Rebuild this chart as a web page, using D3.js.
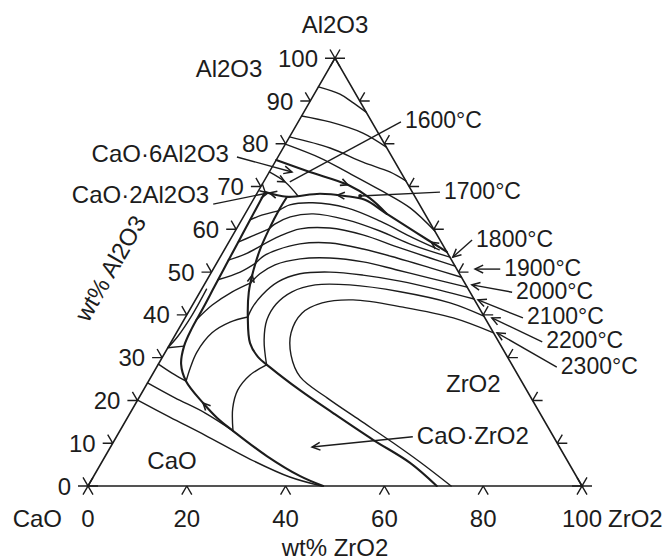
<!DOCTYPE html>
<html>
<head>
<meta charset="utf-8">
<script src="https://cdn.jsdelivr.net/npm/d3@7"></script>
<style>
  body { margin: 0; background: #fff; }
  text { font-family: "Liberation Sans", Arial, sans-serif; font-size: 24px; fill: #1c1c1c; }
  .temp { font-size: 23px; }
</style>
</head>
<body>
<svg width="667" height="560"></svg>
<script>
// every point is [wt% ZrO2, wt% Al2O3]
var leftTicks = [0, 10, 20, 30, 40, 50, 60, 70, 80, 90, 100];
var bottomTicks = [0, 20, 40, 60, 80, 100];
var rightTicks = [10, 20, 30, 40, 50, 60, 70, 80, 90];

// isotherms in the Al2O3 field
var al2o3Iso = [
  [[0, 93.3], [5.2, 91.6], [8.5, 89.8], [12.6, 87.4]],
  [[0, 86.5], [6.4, 85.1], [14.4, 82.5], [20.8, 79.2]],
  [[0, 81.6], [9.5, 79.0], [17.8, 75.7], [24.4, 73.4], [28.7, 71.3]],
  [[0, 79.9], [8.6, 76.7], [15.7, 73.4], [24.5, 69.2], [32.7, 65.0], [40.4, 59.6]]
];

// field boundaries
var bndAl2O3CA6 = [[0, 76.2], [8.2, 73.4], [17.4, 70.4], [23.4, 67.3], [28.7, 63.6]];
var bndZrO2Top = [[45.3, 54.7], [36.5, 59.4], [28.7, 63.6], [22.6, 66.9], [18.1, 67.8], [12.8, 68.3], [6.5, 67.6], [1.5, 68.7]];
var bndZrO2CZ = [[6.5, 67.6], [6.4, 64.3], [6.6, 60.5], [7.2, 55.2], [8.4, 50.0], [9.9, 45.3], [12.6, 39.5], [16.1, 33.4],
  [19.3, 30.2], [22.9, 27.8], [31.7, 22.4], [41.0, 17.1], [52.3, 10.8], [62.5, 5.4], [70.6, 0]];
var bndCZLeft = [[1.5, 68.7], [1.7, 62.2], [1.9, 57.0], [2.1, 51.7], [2.3, 46.5], [2.5, 41.6], [2.6, 36.9], [3.1, 32.7],
  [4.6, 28.5], [7.6, 24.5], [13.6, 19.4], [18.2, 15.9], [22.9, 12.9], [32.7, 7.0], [41.8, 2.3], [47.6, 0]];

var thinBnd = [
  [[0, 73.4], [4.3, 71.1], [8.6, 67.8]],
  [[0, 70.6], [1.5, 68.7]],
  [[1.0, 46], [1.1, 40], [0.7, 35], [0, 32.3]],
  [[0, 32.3], [3.1, 32.7]],
  [[0, 28.5], [3.8, 26.4], [7.6, 24.5]],
  [[0, 24.1], [7.3, 20.6], [15.1, 17.1], [22.9, 12.9]],
  [[0, 20.1], [8.5, 16.1], [17.7, 11.9], [29.6, 6.3], [39.8, 2.1], [47.3, 0]]
];

// isotherms in the ZrO2 field (outer to inner)
var zro2Iso = [
  [[43.5, 55.2], [36.8, 58.0], [28.2, 61.9], [19.9, 65.0], [12.4, 66.2], [8.0, 65.7], [6.4, 64.3]],
  [[46.5, 53.5], [37.6, 56.3], [29.3, 59.6], [21.3, 62.2], [13.8, 63.6], [9.5, 62.9], [7.2, 61.2], [6.6, 60.1]],
  [[48.6, 51.4], [42.6, 53.3], [34.6, 55.9], [26.3, 58.7], [18.8, 60.3], [12.9, 60.1], [9.6, 58.4], [7.1, 56.3]],
  [[51.2, 48.8], [43.8, 51.0], [35.9, 53.3], [28.0, 55.4], [20.6, 56.8], [14.6, 56.6], [10.7, 55.2], [8.7, 53.8], [7.9, 52.1]],
  [[53.5, 46.5], [44.9, 48.6], [37.3, 50.5], [29.5, 52.4], [22.3, 53.3], [16.4, 53.1], [12.0, 51.7], [10.0, 49.6], [9.2, 47.5]],
  [[56.3, 43.7], [48.3, 45.8], [39.2, 47.9], [31.0, 49.3], [24.0, 50.0], [18.1, 49.6], [14.6, 47.7], [12.9, 44.6], [12.4, 41.6], [12.6, 39.5]],
  [[60.3, 39.7], [51.9, 42.8], [40.5, 45.4], [29.5, 47.0], [22.5, 47.0], [18.6, 45.4], [16.8, 42.5], [16.8, 38.8], [18.6, 34.1], [22.0, 28.3]],
  [[64.2, 35.8], [54.3, 39.3], [42.9, 41.8], [31.9, 43.5], [26.0, 42.8], [23.1, 40.4], [23.2, 35.8], [25.8, 30.6], [30.2, 25.5],
   [38.1, 20.6], [47.3, 15.4], [56.7, 10.1], [64.4, 5.6], [73.5, 0]]
];

// the same isotherms carried on in the CaO·ZrO2 field
var czIso = [
  [[6.4, 64.3], [3.5, 63.3], [1.7, 62.2]],
  [[6.6, 60.1], [4.0, 58.4], [1.9, 57.0]],
  [[7.1, 56.3], [4.7, 54.2], [2.0, 52.8]],
  [[7.9, 52.1], [5.8, 50.0], [2.2, 48.2]],
  [[9.2, 47.5], [6.5, 45.4], [4.0, 42.3], [2.5, 38.8]],
  [[12.6, 39.5], [9.6, 38.3], [7.2, 35.8], [6.4, 31.3], [6.9, 27.6], [7.6, 24.5]],
  [[22.0, 28.3], [19.8, 25.9], [19.1, 22.4], [20.2, 18.2], [22.9, 12.9]]
];

// arrows on boundaries: [from, to]
var bndArrows = [
  [[15.0, 71.3], [17.4, 70.4]],
  [[19.0, 67.8], [16.5, 68.0]],
  [[43.0, 55.9], [41.0, 57.0]],
  [[9.5, 46.5], [8.6, 49.3]],
  [[16.0, 17.6], [13.6, 19.4]],
  [[2.6, 71.9], [4.3, 71.1]],
  [[4.5, 68.0], [2.5, 68.5]]
];

var tempLabels = ["1600°C", "1700°C", "1800°C", "1900°C", "2000°C", "2100°C", "2200°C", "2300°C"];
var tempTails = [[20.8, 85.1], [36.9, 68.7], [49.0, 57.5], [58.1, 50.7], [63.2, 45.3], [68.4, 39.3], [75.1, 33.7], [81.0, 27.8]];
var tempTips = [[5.3, 71.1], [21.2, 67.8], [47.1, 53.5], [53.0, 50.7], [54.2, 47.0], [57.2, 43.5], [62.1, 39.3], [64.9, 35.8]];
var tempHead = [false, false, true, true, true, true, true, true];

var phaseLabels = ["CaO·6Al2O3", "CaO·2Al2O3", "CaO·ZrO2"];
var phaseTails = [[-8.3, 76.9], [-7.6, 65.9], [60.0, 11.5]];
var phaseTips = [[4.6, 73.4], [2.2, 68.5], [40.8, 9.1]];

var ink = "#1c1c1c";
var svg = d3.select("svg");
var side = 494;
var x = d3.scaleLinear().domain([0, 100]).range([88, 88 + side]);
var y = d3.scaleLinear().domain([0, 100]).range([486, 486 - side * Math.sqrt(3) / 2]);

function px(p) { return [x(p[0] + p[1] / 2), y(p[1])]; }

var line = d3.line()
    .x(function(d) { return px(d)[0]; })
    .y(function(d) { return px(d)[1]; })
    .curve(d3.curveCatmullRom.alpha(0.5));

function draw(data, w) {
  svg.append("g").selectAll("path")
    .data(data)
    .enter().append("path")
      .attr("d", line)
      .attr("fill", "none")
      .attr("stroke", ink)
      .attr("stroke-width", w)
      .attr("stroke-linejoin", "round")
      .attr("stroke-linecap", "round");
}

function chevron(from, to, len) {
  var p0 = px(from), p1 = px(to);
  var ang = Math.atan2(p1[1] - p0[1], p1[0] - p0[0]);
  var a1 = ang + Math.PI - 0.45, a2 = ang + Math.PI + 0.45;
  return "M" + (p1[0] + len * Math.cos(a1)) + "," + (p1[1] + len * Math.sin(a1)) +
    "L" + p1[0] + "," + p1[1] +
    "L" + (p1[0] + len * Math.cos(a2)) + "," + (p1[1] + len * Math.sin(a2));
}

// triangle
svg.append("path")
    .attr("d", d3.line().x(function(d) { return px(d)[0]; }).y(function(d) { return px(d)[1]; })
      .curve(d3.curveLinearClosed)([[0, 0], [100, 0], [0, 100]]))
    .attr("fill", "none")
    .attr("stroke", ink)
    .attr("stroke-width", 1.6);

// tick marks
var s3 = Math.sqrt(3) / 2, tl = 10;
var ticks = [];
leftTicks.slice(1, -1).forEach(function(a) { ticks.push({p: px([0, a]), d: [[-1, 0], [-0.5, -s3]]}); });
rightTicks.forEach(function(a) { ticks.push({p: px([100 - a, a]), d: [[1, 0], [0.5, -s3]]}); });
bottomTicks.slice(1, -1).forEach(function(z) { ticks.push({p: px([z, 0]), d: [[-0.5, s3], [0.5, s3]]}); });
var tickPath = "";
ticks.forEach(function(t) {
  t.d.forEach(function(d) {
    tickPath += "M" + t.p[0] + "," + t.p[1] + "l" + (d[0] * tl) + "," + (d[1] * tl);
  });
});
[[0, 0], [100, 0], [0, 100]].forEach(function(v) {
  var p = px(v);
  [[1, 0], [0.5, s3], [-0.5, s3]].forEach(function(d) {
    tickPath += "M" + (p[0] - d[0] * tl) + "," + (p[1] - d[1] * tl) + "l" + (2 * d[0] * tl) + "," + (2 * d[1] * tl);
  });
});
svg.append("path").attr("d", tickPath).attr("fill", "none").attr("stroke", ink).attr("stroke-width", 1.4);

// curves
draw(al2o3Iso, 1.4);
draw(zro2Iso, 1.4);
draw(czIso, 1.4);
draw(thinBnd, 1.4);
draw([bndAl2O3CA6, bndZrO2Top, bndZrO2CZ, bndCZLeft], 2.1);

svg.append("g").selectAll("path")
  .data(bndArrows)
  .enter().append("path")
    .attr("d", function(d) { return chevron(d[0], d[1], 8); })
    .attr("fill", "none").attr("stroke", ink).attr("stroke-width", 1.6);

// leader lines
function leaders(tails, tips, heads) {
  var g = svg.append("g");
  tails.forEach(function(t, i) {
    var a = px(t), b = px(tips[i]);
    g.append("line").attr("x1", a[0]).attr("y1", a[1]).attr("x2", b[0]).attr("y2", b[1])
      .attr("stroke", ink).attr("stroke-width", 1.4);
    if (heads[i]) {
      g.append("path").attr("d", chevron(t, tips[i], 9))
        .attr("fill", "none").attr("stroke", ink).attr("stroke-width", 1.5);
    }
  });
}
leaders(tempTails, tempTips, tempHead);
leaders(phaseTails, phaseTips, [true, true, true]);
svg.append("circle").attr("cx", px(tempTips[1])[0]).attr("cy", px(tempTips[1])[1]).attr("r", 2).attr("fill", ink);

// text
svg.append("g").selectAll("text")
  .data(tempLabels)
  .enter().append("text")
    .attr("class", "temp")
    .attr("x", function(d, i) { return px(tempTails[i])[0] + 4; })
    .attr("y", function(d, i) { return px(tempTails[i])[1] + 6.5; })
    .text(function(d) { return d; });

var phaseDx = [-8, -4, 4], phaseDy = [5, -1, 7.5], phaseAnchor = ["end", "end", "start"];
svg.append("g").selectAll("text")
  .data(phaseLabels)
  .enter().append("text")
    .attr("x", function(d, i) { return px(phaseTails[i])[0] + phaseDx[i]; })
    .attr("y", function(d, i) { return px(phaseTails[i])[1] + phaseDy[i]; })
    .attr("text-anchor", function(d, i) { return phaseAnchor[i]; })
    .text(function(d) { return d; });

svg.append("g").selectAll("text")
  .data(leftTicks)
  .enter().append("text")
    .attr("x", function(d) { return px([0, d])[0] - 17; })
    .attr("y", function(d) { return px([0, d])[1] + 8.6; })
    .attr("text-anchor", "end")
    .text(function(d) { return d; });

svg.append("g").selectAll("text")
  .data(bottomTicks)
  .enter().append("text")
    .attr("x", function(d) { return px([d, 0])[0]; })
    .attr("y", y(0) + 41)
    .attr("text-anchor", "middle")
    .text(function(d) { return d; });

var apex = px([0, 100]);
svg.append("text").attr("x", apex[0]).attr("y", apex[1] - 25).attr("text-anchor", "middle").text("Al2O3");
svg.append("text").attr("x", apex[0] - 106).attr("y", apex[1] + 19).attr("text-anchor", "middle").text("Al2O3");
svg.append("text").attr("x", x(0) - 26).attr("y", y(0) + 41).attr("text-anchor", "end").text("CaO");
svg.append("text").attr("x", x(100) + 26).attr("y", y(0) + 41).text("ZrO2");
svg.append("text").attr("x", x(50)).attr("y", y(0) + 70).attr("text-anchor", "middle").text("wt% ZrO2");
svg.append("text")
    .attr("transform", "translate(" + (x(0) + 22) + "," + (y(50) - 4) + ") rotate(-60)")
    .attr("text-anchor", "middle")
    .attr("dy", "0.36em")
    .text("wt% Al2O3");
svg.append("text").attr("x", px([14, 6])[0]).attr("y", px([14, 6])[1] + 8.6).attr("text-anchor", "middle").text("CaO");
svg.append("text").attr("x", px([66, 24])[0]).attr("y", px([66, 24])[1] + 8.6).attr("text-anchor", "middle").text("ZrO2");
</script>
</body>
</html>
